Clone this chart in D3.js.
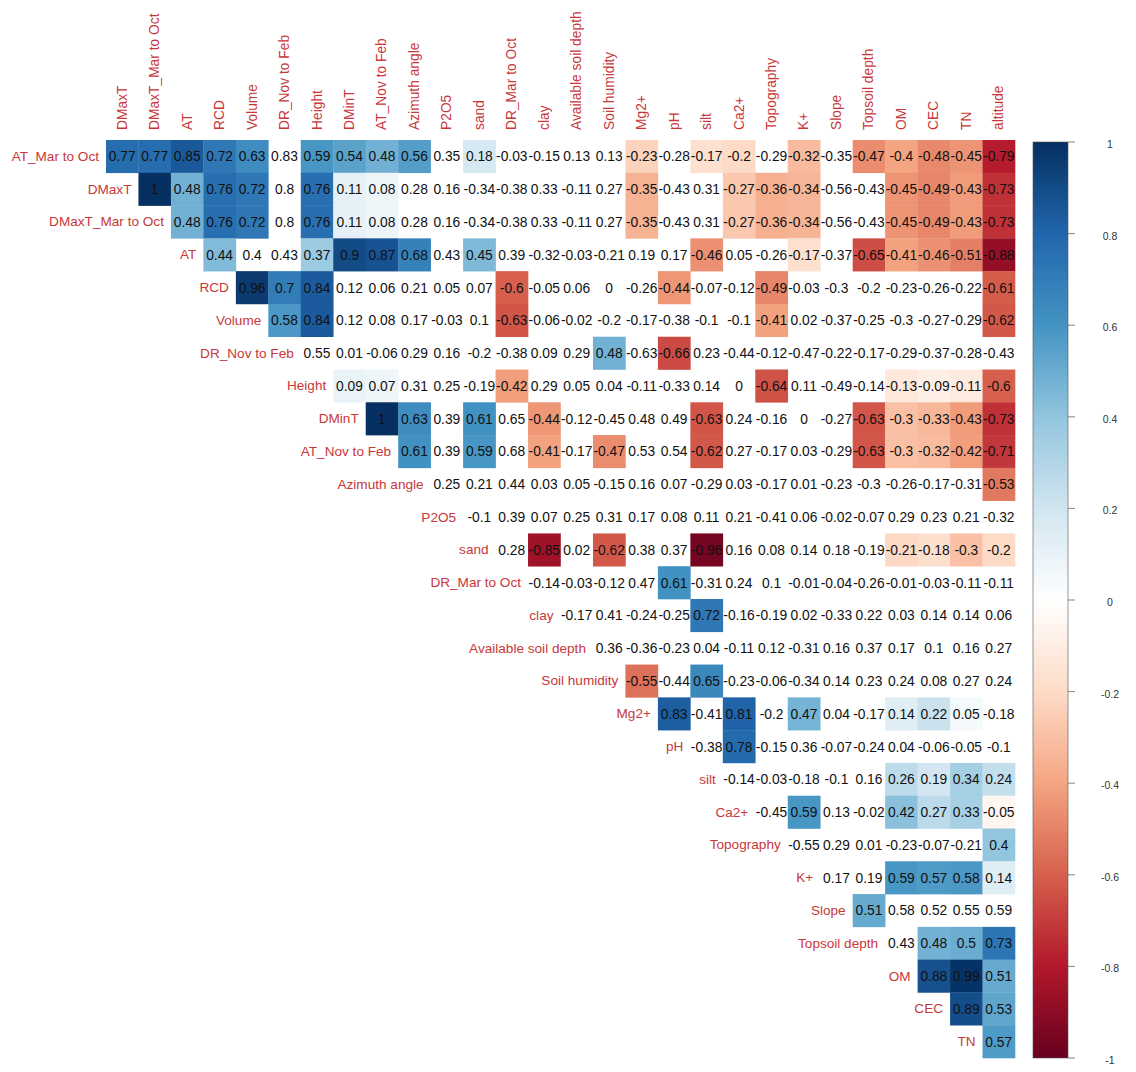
<!DOCTYPE html>
<html>
<head>
<meta charset="utf-8">
<script src="https://cdn.jsdelivr.net/npm/d3@7"></script>
<style>
  html, body { margin: 0; padding: 0; background: #fff; }
  svg { display: block; }
</style>
</head>
<body>
<svg id="chart" width="1136" height="1072"></svg>
<script>
// ---------- DATA ----------
const columns = ["DMaxT","DMaxT_Mar to Oct","AT","RCD","Volume","DR_Nov to Feb","Height","DMinT","AT_Nov to Feb","Azimuth angle","P2O5","sand","DR_Mar to Oct","clay","Available soil depth","Soil humidity","Mg2+","pH","silt","Ca2+","Topography","K+","Slope","Topsoil depth","OM","CEC","TN","altitude"];

const rowLabels = ["AT_Mar to Oct","DMaxT","DMaxT_Mar to Oct","AT","RCD","Volume","DR_Nov to Feb","Height","DMinT","AT_Nov to Feb","Azimuth angle","P2O5","sand","DR_Mar to Oct","clay","Available soil depth","Soil humidity","Mg2+","pH","silt","Ca2+","Topography","K+","Slope","Topsoil depth","OM","CEC","TN"];

// row i holds the values for columns i..27
const corrRows = [
  [0.77,0.77,0.85,0.72,0.63,0.83,0.59,0.54,0.48,0.56,0.35,0.18,-0.03,-0.15,0.13,0.13,-0.23,-0.28,-0.17,-0.2,-0.29,-0.32,-0.35,-0.47,-0.4,-0.48,-0.45,-0.79],
  [1,0.48,0.76,0.72,0.8,0.76,0.11,0.08,0.28,0.16,-0.34,-0.38,0.33,-0.11,0.27,-0.35,-0.43,0.31,-0.27,-0.36,-0.34,-0.56,-0.43,-0.45,-0.49,-0.43,-0.73],
  [0.48,0.76,0.72,0.8,0.76,0.11,0.08,0.28,0.16,-0.34,-0.38,0.33,-0.11,0.27,-0.35,-0.43,0.31,-0.27,-0.36,-0.34,-0.56,-0.43,-0.45,-0.49,-0.43,-0.73],
  [0.44,0.4,0.43,0.37,0.9,0.87,0.68,0.43,0.45,0.39,-0.32,-0.03,-0.21,0.19,0.17,-0.46,0.05,-0.26,-0.17,-0.37,-0.65,-0.41,-0.46,-0.51,-0.88],
  [0.96,0.7,0.84,0.12,0.06,0.21,0.05,0.07,-0.6,-0.05,0.06,0,-0.26,-0.44,-0.07,-0.12,-0.49,-0.03,-0.3,-0.2,-0.23,-0.26,-0.22,-0.61],
  [0.58,0.84,0.12,0.08,0.17,-0.03,0.1,-0.63,-0.06,-0.02,-0.2,-0.17,-0.38,-0.1,-0.1,-0.41,0.02,-0.37,-0.25,-0.3,-0.27,-0.29,-0.62],
  [0.55,0.01,-0.06,0.29,0.16,-0.2,-0.38,0.09,0.29,0.48,-0.63,-0.66,0.23,-0.44,-0.12,-0.47,-0.22,-0.17,-0.29,-0.37,-0.28,-0.43],
  [0.09,0.07,0.31,0.25,-0.19,-0.42,0.29,0.05,0.04,-0.11,-0.33,0.14,0,-0.64,0.11,-0.49,-0.14,-0.13,-0.09,-0.11,-0.6],
  [1,0.63,0.39,0.61,0.65,-0.44,-0.12,-0.45,0.48,0.49,-0.63,0.24,-0.16,0,-0.27,-0.63,-0.3,-0.33,-0.43,-0.73],
  [0.61,0.39,0.59,0.68,-0.41,-0.17,-0.47,0.53,0.54,-0.62,0.27,-0.17,0.03,-0.29,-0.63,-0.3,-0.32,-0.42,-0.71],
  [0.25,0.21,0.44,0.03,0.05,-0.15,0.16,0.07,-0.29,0.03,-0.17,0.01,-0.23,-0.3,-0.26,-0.17,-0.31,-0.53],
  [-0.1,0.39,0.07,0.25,0.31,0.17,0.08,0.11,0.21,-0.41,0.06,-0.02,-0.07,0.29,0.23,0.21,-0.32],
  [0.28,-0.85,0.02,-0.62,0.38,0.37,-0.96,0.16,0.08,0.14,0.18,-0.19,-0.21,-0.18,-0.3,-0.2],
  [-0.14,-0.03,-0.12,0.47,0.61,-0.31,0.24,0.1,-0.01,-0.04,-0.26,-0.01,-0.03,-0.11,-0.11],
  [-0.17,0.41,-0.24,-0.25,0.72,-0.16,-0.19,0.02,-0.33,0.22,0.03,0.14,0.14,0.06],
  [0.36,-0.36,-0.23,0.04,-0.11,0.12,-0.31,0.16,0.37,0.17,0.1,0.16,0.27],
  [-0.55,-0.44,0.65,-0.23,-0.06,-0.34,0.14,0.23,0.24,0.08,0.27,0.24],
  [0.83,-0.41,0.81,-0.2,0.47,0.04,-0.17,0.14,0.22,0.05,-0.18],
  [-0.38,0.78,-0.15,0.36,-0.07,-0.24,0.04,-0.06,-0.05,-0.1],
  [-0.14,-0.03,-0.18,-0.1,0.16,0.26,0.19,0.34,0.24],
  [-0.45,0.59,0.13,-0.02,0.42,0.27,0.33,-0.05],
  [-0.55,0.29,0.01,-0.23,-0.07,-0.21,0.4],
  [0.17,0.19,0.59,0.57,0.58,0.14],
  [0.51,0.58,0.52,0.55,0.59],
  [0.43,0.48,0.5,0.73],
  [0.88,0.99,0.51],
  [0.89,0.53],
  [0.57]
];

// column indices whose cell is filled with colour (significant), per row
const significantCols = [
  [0,1,2,3,4,6,7,8,9,11,16,18,19,21,23,24,25,26,27],
  [1,2,3,4,6,7,8,16,19,20,21,24,25,26,27],
  [2,3,4,6,7,8,16,19,20,21,24,25,26,27],
  [3,6,7,8,9,11,18,21,23,24,25,26,27],
  [4,5,6,12,17,20,27],
  [5,6,12,20,27],
  [15,17],
  [7,8,12,20,24,25,26,27],
  [8,9,11,13,18,23,24,25,26,27],
  [9,11,13,15,18,23,24,25,26,27],
  [27],
  [],
  [13,15,18,24,25,26,27],
  [17],
  [18],
  [],
  [16,18],
  [17,19,21,24,25,26],
  [19],
  [24,25,26,27],
  [21,24,25,26,27],
  [27],
  [24,25,26,27],
  [23],
  [25,26,27],
  [25,26,27],
  [26,27],
  [27]
];

const legendTicks = [1,0.8,0.6,0.4,0.2,0,-0.2,-0.4,-0.6,-0.8,-1];
const paletteStops = ["#67001F","#B2182B","#D6604D","#F4A582","#FDDBC7","#FFFFFF","#D1E5F0","#92C5DE","#4393C3","#2166AC","#053061"];

// ---------- DRAW ----------
const svg = d3.select("#chart");
const labelColor = "#C8373A";
const fontFam = "'Liberation Sans', Arial, sans-serif";
const fmt = v => String(v); // hyphen-minus, as in the reference

const x = d3.scaleBand().domain(columns).range([106, 1015]).padding(0);
const y = d3.scaleBand().domain(rowLabels).range([140, 1058]).padding(0);

const color = d3.scaleLinear()
  .domain(d3.range(paletteStops.length).map(i => -1 + 2 * i / (paletteStops.length - 1)))
  .range(paletteStops)
  .interpolate(d3.interpolateRgb);

const cells = [];
corrRows.forEach((vals, i) => {
  vals.forEach((v, k) => {
    const j = i + k;
    cells.push({ row: rowLabels[i], col: columns[j], v, sig: significantCols[i].includes(j) });
  });
});

const g = svg.append("g");

g.selectAll("rect.cell")
  .data(cells.filter(d => d.sig))
  .join("rect")
  .attr("class", "cell")
  .attr("x", d => x(d.col))
  .attr("y", d => y(d.row))
  .attr("width", x.bandwidth() + 0.3)
  .attr("height", y.bandwidth() + 0.3)
  .attr("fill", d => color(d.v));

g.selectAll("text.num")
  .data(cells)
  .join("text")
  .attr("class", "num")
  .attr("x", d => x(d.col) + x.bandwidth() / 2)
  .attr("y", d => y(d.row) + y.bandwidth() / 2 + 0.5)
  .attr("text-anchor", "middle")
  .attr("dominant-baseline", "central")
  .attr("font-family", fontFam)
  .attr("font-size", 13.8)
  .attr("fill", "#111")
  .text(d => fmt(d.v));

// column labels (top, rotated)
g.selectAll("text.collab")
  .data(columns)
  .join("text")
  .attr("class", "collab")
  .attr("transform", d => `translate(${x(d) + x.bandwidth() / 2},${y.range()[0] - 10}) rotate(-90)`)
  .attr("text-anchor", "start")
  .attr("dominant-baseline", "central")
  .attr("font-family", fontFam)
  .attr("font-size", 13.8)
  .attr("fill", labelColor)
  .text(d => d);

// row labels (left of each row's first cell)
g.selectAll("text.rowlab")
  .data(rowLabels)
  .join("text")
  .attr("class", "rowlab")
  .attr("x", (d, i) => x(columns[i]) - 7)
  .attr("y", d => y(d) + y.bandwidth() / 2)
  .attr("text-anchor", "end")
  .attr("dominant-baseline", "central")
  .attr("font-family", fontFam)
  .attr("font-size", 13.6)
  .attr("fill", labelColor)
  .text(d => d);

// ---------- LEGEND ----------
const ly = d3.scaleLinear().domain([-1, 1]).range([1058, 142]);
const defs = svg.append("defs");
const grad = defs.append("linearGradient")
  .attr("id", "legGrad").attr("x1", 0).attr("y1", 1).attr("x2", 0).attr("y2", 0);
d3.range(0, 101).forEach(i => {
  const v = -1 + 2 * i / 100;
  grad.append("stop").attr("offset", `${i}%`).attr("stop-color", color(v));
});

const lx0 = 1033, lw = 35;
svg.append("rect")
  .attr("x", lx0).attr("y", ly(1))
  .attr("width", lw).attr("height", ly(-1) - ly(1))
  .attr("fill", "url(#legGrad)")
  .attr("stroke", "#555").attr("stroke-width", 0.6);

const legAxis = svg.append("g");
legAxis.selectAll("line")
  .data(legendTicks)
  .join("line")
  .attr("x1", lx0 + lw).attr("x2", lx0 + lw + 7)
  .attr("y1", d => ly(d)).attr("y2", d => ly(d))
  .attr("stroke", "#666").attr("stroke-width", 0.8);
legAxis.selectAll("text")
  .data(legendTicks)
  .join("text")
  .attr("x", 1110)
  .attr("y", d => ly(d) + 2)
  .attr("text-anchor", "middle")
  .attr("dominant-baseline", "central")
  .attr("font-family", fontFam)
  .attr("font-size", 10.5)
  .attr("fill", "#333")
  .text(d => fmt(d));
</script>
</body>
</html>
